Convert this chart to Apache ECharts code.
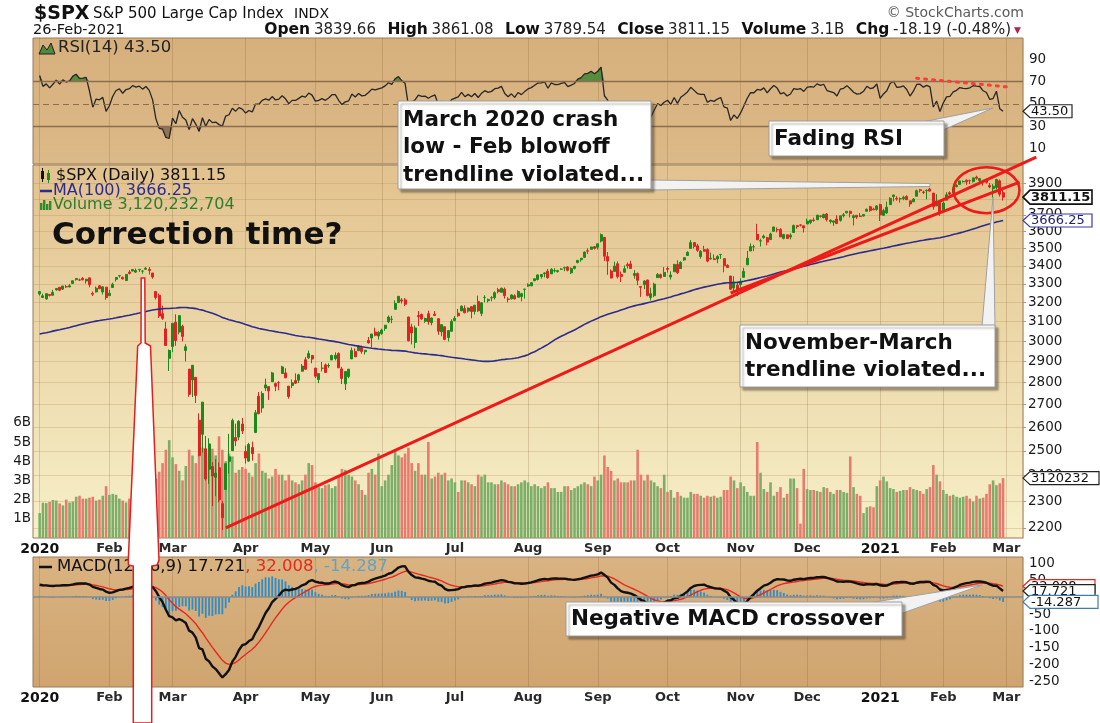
<!DOCTYPE html>
<html>
<head>
<meta charset="utf-8">
<title>$SPX S&amp;P 500 Large Cap Index</title>
<script src="https://cdn.jsdelivr.net/npm/echarts@6.0.0/dist/echarts.min.js"></script>
<style>
html,body{margin:0;padding:0;background:#ffffff;}
#chart{width:1100px;height:723px;}
</style>
</head>
<body>
<div id="chart"></div>
<script>
// ================= DATA =================
const monthKeys = ['2020-01','2020-02','2020-03','2020-04','2020-05','2020-06','2020-07','2020-08','2020-09','2020-10','2020-11','2020-12','2021-01','2021-02'];
const monthDays = [
 [2,3,6,7,8,9,10,13,14,15,16,17,21,22,23,24,27,28,29,30,31],
 [3,4,5,6,7,10,11,12,13,14,18,19,20,21,24,25,26,27,28],
 [2,3,4,5,6,9,10,11,12,13,16,17,18,19,20,23,24,25,26,27,30,31],
 [1,2,3,6,7,8,9,13,14,15,16,17,20,21,22,23,24,27,28,29,30],
 [1,4,5,6,7,8,11,12,13,14,15,18,19,20,21,22,26,27,28,29],
 [1,2,3,4,5,8,9,10,11,12,15,16,17,18,19,22,23,24,25,26,29,30],
 [1,2,6,7,8,9,10,13,14,15,16,17,20,21,22,23,24,27,28,29,30,31],
 [3,4,5,6,7,10,11,12,13,14,17,18,19,20,21,24,25,26,27,28,31],
 [1,2,3,4,8,9,10,11,14,15,16,17,18,21,22,23,24,25,28,29,30],
 [1,2,5,6,7,8,9,12,13,14,15,16,19,20,21,22,23,26,27,28,29,30],
 [2,3,4,5,6,9,10,11,12,13,16,17,18,19,20,23,24,25,27,30],
 [1,2,3,4,7,8,9,10,11,14,15,16,17,18,21,22,23,24,28,29,30,31],
 [4,5,6,7,8,11,12,13,14,15,19,20,21,22,25,26,27,28,29],
 [1,2,3,4,5,8,9,10,11,12,16,17,18,19,22,23,24,25,26]
];
const futureDates = ['2021-03-01','2021-03-02','2021-03-03','2021-03-04','2021-03-05','2021-03-08'];

// closes Aug-Dec 2019 (history needed for MA(100), RSI and MACD warm-up)
const priorCloses = [
 2953.56,2932.05,2844.74,2881.77,2883.98,2938.09,2918.65,2882.70,2926.32,2840.60,2847.60,2888.68,2923.65,2900.51,2924.43,2922.95,2847.11,2878.38,2869.16,2887.94,2924.58,2926.46,
 2906.27,2937.78,2976.00,2978.71,2978.43,2979.39,3000.93,3009.57,3007.39,2997.96,3005.70,3006.73,3006.79,2992.07,2991.78,2966.60,2984.87,2977.62,2961.79,2976.74,
 2940.25,2887.61,2910.63,2952.01,2938.79,2893.06,2919.40,2938.13,2970.27,2966.15,2995.68,2989.69,2997.95,2986.20,3006.72,2995.99,3004.52,3010.29,3022.55,3039.42,3036.89,3046.77,3037.56,
 3066.91,3078.27,3074.62,3076.78,3085.18,3093.08,3087.01,3091.84,3094.04,3096.63,3120.46,3122.03,3120.18,3108.46,3103.54,3110.29,3133.64,3140.52,3153.63,3140.98,
 3113.87,3093.20,3112.76,3117.43,3145.91,3135.96,3132.52,3141.63,3168.57,3168.80,3191.45,3192.52,3191.14,3205.37,3221.22,3224.01,3223.38,3239.91,3240.02,3221.29,3230.78
];

const opens = [
 3245,3226,3218,3242,3238,3267,3281,3271,3285,3283,3302,3323,3321,3330,3316,3333,3248,3256,3289,3256,3282,
 3236,3280,3325,3344,3335,3318,3365,3371,3365,3378,3370,3381,3380,3360,3258,3238,3140,3062,2916,
 2974,3096,3046,3075,2954,2864,2813,2825,2631,2570,2509,2425,2436,2393,2431,2290,2345,2457,2501,2556,2558,2614,
 2498,2458,2514,2578,2738,2685,2776,2782,2805,2796,2800,2843,2846,2784,2787,2810,2812,2854,2909,2918,2930,
 2869,2815,2868,2884,2879,2908,2915,2939,2865,2795,2829,2913,2949,2953,2969,2948,3004,3016,3046,3026,
 3038,3064,3098,3111,3163,3199,3213,3213,3123,3072,2994,3131,3136,3101,3140,3094,3138,3114,3047,3073,3018,3050,
 3105,3143,3155,3167,3154,3177,3152,3205,3142,3226,3209,3224,3225,3268,3254,3271,3218,3219,3235,3227,3231,3270,
 3288,3289,3317,3324,3340,3356,3370,3355,3372,3368,3381,3388,3393,3361,3386,3419,3435,3449,3486,3495,3510,
 3507,3543,3565,3453,3371,3369,3412,3352,3364,3408,3411,3346,3357,3285,3296,3321,3226,3236,3334,3350,3341,
 3385,3338,3367,3408,3385,3434,3459,3500,3534,3515,3453,3493,3493,3439,3440,3439,3464,3441,3403,3343,3277,3293,
 3296,3336,3406,3485,3509,3583,3543,3563,3563,3552,3601,3611,3612,3559,3580,3567,3594,3635,3639,3634,
 3645,3654,3669,3671,3694,3684,3706,3660,3656,3675,3667,3696,3713,3723,3684,3698,3694,3694,3723,3751,3736,3734,
 3764,3698,3713,3764,3815,3803,3801,3802,3815,3788,3782,3817,3858,3844,3852,3863,3837,3756,3778,
 3732,3792,3840,3837,3878,3893,3910,3920,3917,3911,3940,3918,3915,3921,3886,3865,3873,3916,3839.66
];
const highs = [
 3258,3246,3247,3245,3267,3275,3282,3288,3294,3299,3317,3330,3329,3337,3326,3334,3258,3285,3293,3286,3282,
 3268,3306,3337,3348,3341,3352,3376,3381,3385,3381,3375,3394,3393,3360,3259,3247,3182,3098,2959,
 3091,3137,3131,3083,2985,2864,2883,2825,2661,2712,2563,2553,2454,2466,2453,2300,2450,2572,2638,2616,2631,2641,
 2522,2534,2539,2676,2757,2760,2819,2782,2851,2801,2807,2880,2868,2785,2815,2844,2842,2888,2922,2954,2931,
 2870,2845,2898,2891,2892,2933,2945,2945,2875,2852,2865,2969,2964,2980,2978,2956,3021,3036,3068,3050,
 3063,3081,3131,3129,3211,3233,3223,3223,3124,3088,3079,3154,3141,3120,3156,3120,3154,3116,3086,3074,3054,3111,
 3128,3165,3183,3184,3172,3179,3186,3236,3200,3238,3220,3233,3259,3278,3279,3280,3228,3242,3243,3265,3251,3272,
 3303,3307,3331,3352,3353,3364,3382,3387,3387,3378,3387,3395,3399,3391,3400,3432,3444,3482,3501,3510,3514,
 3528,3588,3565,3479,3380,3424,3425,3368,3402,3419,3429,3376,3363,3286,3320,3323,3279,3306,3360,3357,3393,
 3397,3369,3410,3431,3426,3447,3483,3549,3534,3527,3490,3515,3502,3476,3465,3461,3466,3442,3409,3343,3342,3305,
 3330,3389,3486,3529,3521,3646,3557,3581,3569,3593,3628,3624,3620,3586,3581,3589,3642,3638,3644,3634,
 3678,3670,3683,3699,3698,3708,3712,3673,3665,3698,3695,3712,3725,3726,3703,3698,3712,3703,3740,3757,3745,3761,
 3770,3738,3783,3811,3827,3817,3810,3820,3823,3789,3805,3860,3864,3853,3860,3871,3837,3830,3779,
 3784,3843,3848,3872,3894,3916,3919,3925,3925,3937,3950,3933,3922,3931,3902,3895,3928,3925,3861.08
];
const lows = [
 3236,3223,3215,3232,3236,3263,3260,3268,3278,3281,3302,3318,3316,3320,3301,3281,3234,3253,3271,3242,3214,
 3236,3280,3313,3334,3323,3317,3352,3369,3360,3366,3356,3378,3351,3328,3215,3118,3108,2977,2855,
 2946,2977,3034,2999,2901,2735,2734,2707,2478,2493,2380,2367,2281,2319,2295,2192,2345,2407,2500,2520,2545,2571,
 2448,2455,2460,2575,2657,2664,2762,2721,2805,2761,2765,2843,2821,2727,2775,2794,2798,2852,2860,2912,2892,
 2822,2798,2853,2847,2870,2908,2906,2869,2794,2766,2821,2913,2922,2953,2938,2934,2988,2970,3024,3008,
 3032,3052,3091,3091,3163,3197,3194,3181,2999,2984,2965,3077,3108,3093,3083,3080,3128,3032,3025,3005,2999,3048,
 3101,3124,3155,3142,3146,3116,3136,3150,3128,3200,3199,3206,3215,3248,3253,3220,3200,3215,3216,3227,3205,3220,
 3284,3287,3315,3319,3329,3336,3328,3355,3363,3362,3379,3370,3369,3354,3380,3414,3423,3444,3468,3493,3494,
 3494,3535,3427,3350,3330,3367,3329,3310,3364,3385,3384,3328,3292,3229,3271,3232,3210,3228,3333,3328,3340,
 3362,3324,3367,3354,3385,3428,3458,3499,3500,3480,3441,3482,3420,3435,3433,3415,3440,3364,3388,3268,3259,3233,
 3279,3336,3406,3485,3484,3550,3511,3557,3518,3552,3601,3595,3567,3553,3556,3553,3594,3617,3630,3594,
 3645,3644,3658,3670,3684,3679,3660,3648,3634,3645,3659,3685,3710,3685,3636,3676,3689,3690,3723,3720,3730,3726,
 3663,3695,3706,3764,3784,3789,3777,3792,3792,3750,3780,3817,3841,3831,3797,3847,3733,3756,3694,
 3725,3792,3823,3836,3874,3892,3906,3890,3895,3905,3923,3901,3885,3898,3868,3805,3860,3815,3789.54
];
const closes = [
 3257.85,3234.85,3246.28,3237.18,3253.05,3274.70,3265.35,3288.13,3283.15,3289.29,3316.81,3329.62,3320.79,3321.75,3325.54,3295.47,3243.63,3276.24,3273.40,3283.66,3225.52,
 3248.92,3297.59,3334.69,3345.78,3327.71,3352.09,3357.75,3379.45,3373.94,3380.16,3370.29,3386.15,3373.23,3337.75,3225.89,3128.21,3116.39,2978.76,2954.22,
 3090.23,3003.37,3130.12,3023.94,2972.37,2746.56,2882.23,2741.38,2480.64,2711.02,2386.13,2529.19,2398.10,2409.39,2304.92,2237.40,2447.33,2475.56,2630.07,2541.47,2626.65,2584.59,
 2470.50,2526.90,2488.65,2663.68,2659.41,2749.98,2789.82,2761.63,2846.06,2783.36,2799.55,2874.56,2823.16,2736.56,2799.31,2797.80,2836.74,2878.48,2863.39,2939.51,2912.43,
 2830.71,2842.74,2868.44,2848.42,2881.19,2929.80,2930.32,2870.12,2820.00,2852.50,2863.70,2953.91,2922.94,2971.61,2948.51,2955.45,2991.77,3036.13,3029.73,3044.31,
 3055.73,3080.82,3122.87,3112.35,3193.93,3232.39,3207.18,3190.14,3002.10,3041.31,3066.59,3124.74,3113.49,3115.34,3097.74,3117.86,3131.29,3050.33,3083.76,3009.05,3053.24,3100.29,
 3115.86,3130.01,3179.72,3145.32,3169.94,3152.05,3185.04,3155.22,3197.52,3226.56,3215.57,3224.73,3251.84,3257.30,3276.02,3235.66,3215.63,3239.41,3218.44,3258.44,3246.22,3271.12,
 3294.61,3306.51,3327.77,3349.16,3351.28,3360.47,3333.69,3380.35,3373.43,3372.85,3381.99,3389.78,3374.85,3385.51,3397.16,3431.28,3443.62,3478.73,3484.55,3508.01,3500.31,
 3526.65,3580.84,3455.06,3426.96,3331.84,3398.96,3339.19,3340.97,3383.54,3401.20,3385.49,3357.01,3319.47,3281.06,3315.57,3236.92,3246.59,3298.46,3351.60,3335.47,3363.00,
 3380.80,3348.42,3408.60,3360.97,3419.44,3446.83,3477.14,3534.22,3511.93,3488.67,3483.34,3483.81,3426.92,3443.12,3435.56,3453.49,3465.39,3400.97,3390.68,3271.03,3310.11,3269.96,
 3310.24,3369.16,3443.44,3510.45,3509.44,3550.50,3545.53,3572.66,3537.01,3585.15,3626.91,3609.53,3567.79,3581.87,3557.54,3577.59,3635.41,3629.65,3638.35,3621.63,
 3662.45,3669.01,3666.72,3699.12,3691.96,3702.25,3672.82,3668.10,3663.46,3647.49,3694.62,3701.17,3722.48,3709.41,3694.92,3687.26,3690.01,3703.06,3735.36,3727.04,3732.04,3756.07,
 3700.65,3726.86,3748.14,3803.79,3824.68,3799.61,3801.19,3809.84,3795.54,3768.25,3798.91,3851.85,3853.07,3841.47,3855.36,3849.62,3750.77,3787.38,3714.24,
 3773.86,3826.31,3830.17,3871.74,3886.83,3915.59,3911.23,3909.88,3916.38,3934.83,3932.59,3931.33,3913.97,3906.71,3876.50,3881.37,3925.43,3829.34,3811.15
];
// volume in billions of shares
const volumesB = [
 1.30,1.84,1.82,1.88,1.98,1.95,1.80,1.70,2.00,1.85,1.90,2.15,2.20,2.05,2.05,2.10,2.15,1.95,2.00,2.20,2.70,
 2.25,2.30,2.25,2.05,1.95,1.85,2.05,1.95,1.80,1.80,1.95,1.85,2.00,2.30,3.10,3.45,3.90,4.60,5.10,
 4.20,3.85,3.50,3.00,3.75,4.60,4.30,3.90,4.30,4.70,4.45,4.20,4.65,4.30,5.30,4.60,4.00,4.40,4.25,3.40,3.55,3.70,
 3.60,3.40,3.20,3.90,4.40,3.50,3.40,3.10,3.20,3.60,3.30,3.30,3.00,3.30,3.00,2.90,2.80,3.00,3.30,3.90,3.80,
 2.90,2.65,2.60,2.75,2.80,2.60,2.70,3.20,3.60,3.55,3.30,3.20,3.00,2.80,2.50,2.25,3.40,3.60,3.30,4.40,
 2.70,3.00,3.30,3.80,4.60,4.30,4.20,4.40,4.70,3.90,3.50,3.90,3.30,3.30,5.00,3.10,3.20,3.40,3.30,3.40,3.00,3.10,
 2.90,2.40,3.00,3.00,2.90,2.80,2.70,3.30,3.20,3.30,2.90,2.90,2.80,2.80,3.00,2.90,2.80,2.70,2.70,2.80,2.90,3.00,
 2.90,2.70,2.80,2.70,2.60,2.70,2.90,2.60,2.60,2.40,2.40,2.70,2.70,2.50,2.60,2.70,2.80,2.90,2.80,2.70,3.20,
 3.00,3.30,4.30,3.70,3.50,3.00,3.10,2.90,2.90,2.90,3.00,3.00,4.60,3.30,3.00,3.30,3.00,2.90,2.70,2.60,3.30,
 2.40,2.50,2.10,2.40,2.20,2.10,2.10,2.40,2.30,2.30,2.20,2.10,2.20,2.15,2.20,2.10,2.15,2.50,2.50,3.20,3.00,2.60,
 2.90,2.70,2.40,2.20,2.20,5.00,3.40,2.55,2.40,2.90,2.20,2.40,2.65,2.10,2.30,3.10,3.10,2.60,0.75,3.60,
 2.55,2.50,2.50,2.45,2.40,2.65,2.60,2.40,2.30,2.50,2.50,2.40,2.35,4.25,2.65,2.30,2.20,1.30,1.60,1.65,1.60,2.70,
 3.00,3.20,2.95,2.60,2.55,2.40,2.45,2.50,2.50,2.65,2.55,2.50,2.45,2.30,2.55,2.65,3.80,3.30,2.95,
 2.50,2.30,2.20,2.25,2.15,2.10,2.15,2.20,2.05,1.90,2.20,2.05,2.10,2.30,2.80,3.00,2.75,2.85,3.12
];

const priceTicks = [2200,2300,2400,2500,2600,2700,2800,2900,3000,3100,3200,3300,3400,3500,3600,3700,3800,3900];
const rsiTicks = [10,30,50,70,90];
const macdTicks = [100,50,-50,-100,-150,-200,-250];
const volumeTicks = [1,2,3,4,5,6];
const monthNames = ['Jan','Feb','Mar','Apr','May','Jun','Jul','Aug','Sep','Oct','Nov','Dec'];

// last readings shown on the chart
const lastRsi = 43.50;
const lastClose = 3811.15;
const lastMa = 3666.25;
const lastVolume = 3120232704;
const lastMacd = 17.721;
const lastSignal = 32.008;
const lastHist = -14.287;

// annotation anchors: [trading-day index, price] / [index, RSI]
const trendFromFeb = [[55.8, 2200], [299.7, 4074]];
const trendFromNov = [[208.4, 3250], [294.5, 3908]];
const circleCenter = [285.2, 3856];
const rsiFadeLine = [[264, 73], [291.5, 65]];

// ================= BUILD =================
const dates = [];
monthKeys.forEach((mk, k) => monthDays[k].forEach(d => dates.push(mk + '-' + String(d).padStart(2, '0'))));
const N = dates.length;
[opens, highs, lows, closes, volumesB].forEach((a, k) => {
  if (a.length !== N) throw new Error('array ' + k + ' length ' + a.length + ' != ' + N);
});
const PAD = 2;
const cats = ['p1', 'p2'].concat(dates, futureDates);
const monthStart = cats.map((c, i) => {
  if (i < PAD) return false;
  if (i === PAD) return true;
  return c.slice(0, 7) !== cats[i - 1].slice(0, 7);
});
const pad = arr => ['-', '-'].concat(arr);

// indicators
const allC = priorCloses.concat(closes);
const P = priorCloses.length;
const ma100 = closes.map((c, i) => {
  let s = 0; const j = P + i;
  for (let k = j - 99; k <= j; k++) s += allC[k];
  return s / 100;
});
const rsiAll = [];
let ag = 0, al = 0;
for (let k = 1; k <= 14; k++) { const d = allC[k] - allC[k - 1]; if (d > 0) ag += d; else al -= d; }
ag /= 14; al /= 14;
rsiAll[14] = 100 - 100 / (1 + ag / al);
for (let k = 15; k < allC.length; k++) {
  const d = allC[k] - allC[k - 1];
  ag = (ag * 13 + Math.max(d, 0)) / 14;
  al = (al * 13 + Math.max(-d, 0)) / 14;
  rsiAll[k] = 100 - 100 / (1 + ag / al);
}
const rsi = closes.map((c, i) => rsiAll[P + i]);
function ema(arr, n) { const a = 2 / (n + 1); const out = []; let e = arr[0]; arr.forEach((v, i) => { e = i === 0 ? v : e + a * (v - e); out.push(e); }); return out; }
const e12 = ema(allC, 12), e26 = ema(allC, 26);
const macdAll = e12.map((v, i) => v - e26[i]);
const sigAll = ema(macdAll, 9);
const macd = closes.map((c, i) => macdAll[P + i]);
const signal = closes.map((c, i) => sigAll[P + i]);
const hist = macd.map((v, i) => v - signal[i]);

const candleData = pad(dates.map((d, i) => [Math.log(opens[i]), Math.log(closes[i]), Math.log(lows[i]), Math.log(highs[i])]));
candleData[0] = ['-', '-', '-', '-']; candleData[1] = ['-', '-', '-', '-'];
const UP = '#1a8a1a', DOWN = '#e02222';
const volData = pad(volumesB.map((v, i) => ({ value: v, itemStyle: { color: closes[i] >= opens[i] ? '#7cae69' : '#e87b6f' } })));

// ================= OPTION =================
const F = 'DejaVu Sans';
const grad = (a, b) => ({ type: 'linear', x: 0, y: 0, x2: 0, y2: 1, colorStops: [{ offset: 0, color: a }, { offset: 1, color: b }] });
const labelFmt = v => {
  if (v[0] === 'p') return '';
  const y = v.slice(0, 4), m = +v.slice(5, 7);
  return m === 1 ? '{y|' + y + '}' : '{m|' + monthNames[m - 1] + '}';
};
function xAx(gi, showLab) {
  return {
    type: 'category', gridIndex: gi, data: cats, boundaryGap: false,
    axisLine: { show: false }, axisTick: { show: false },
    axisLabel: {
      show: showLab, interval: i => monthStart[i], margin: 4, formatter: labelFmt,
      rich: { y: { fontFamily: F, fontWeight: 'bold', fontSize: 14, color: '#111' }, m: { fontFamily: F, fontWeight: 'bold', fontSize: 13, color: '#2a2a2a' } }
    },
    splitLine: { show: true, interval: i => monthStart[i], lineStyle: { color: 'rgba(120,85,40,0.22)', width: 1 } }
  };
}
const axLab = { fontFamily: F, fontSize: 13.5, color: '#1a1a1a' };
const pinkAxis = { show: true, lineStyle: { color: '#e2a0a0', type: 'dotted', width: 1 } };

const option = {
  animation: false,
  backgroundColor: '#ffffff',
  grid: [
    { left: 33, top: 38, width: 990, height: 126, show: true, backgroundColor: grad('#d6b07c', '#dcb988'), borderColor: '#9a7a58', borderWidth: 1 },
    { left: 33, top: 165, width: 990, height: 373, show: true, backgroundColor: grad('#e2c28e', '#f7f0c9'), borderColor: '#9a7a58', borderWidth: 1 },
    { left: 33, top: 557, width: 990, height: 130, show: true, backgroundColor: grad('#d9b381', '#cfa46f'), borderColor: '#9a7a58', borderWidth: 1 }
  ],
  xAxis: [xAx(0, false), xAx(1, true), xAx(2, true)],
  yAxis: [
    { gridIndex: 0, type: 'value', min: -3.6, max: 108.9, position: 'right', axisLine: pinkAxis, axisTick: { show: false }, splitLine: { show: false },
      axisLabel: Object.assign({ customValues: rsiTicks, margin: 6 }, axLab) },
    { gridIndex: 1, type: 'value', min: Math.log(2163.2), max: Math.log(4020.4), position: 'right', axisLine: pinkAxis,
      axisTick: { show: true, customValues: priceTicks.map(Math.log), length: 3, lineStyle: { color: '#d88080' } },
      splitLine: { show: true, lineStyle: { color: 'rgba(175,135,75,0.28)', width: 1 } },
      axisLabel: Object.assign({ customValues: priceTicks.map(Math.log), margin: 5, formatter: v => String(Math.round(Math.exp(v))) }, axLab) },
    { gridIndex: 1, type: 'value', min: 0, max: 19.43, interval: 1, position: 'left', axisLine: { show: false }, axisTick: { show: false }, splitLine: { show: false },
      axisLabel: Object.assign({ margin: 2, formatter: v => volumeTicks.indexOf(v) >= 0 ? v + 'B' : '' }, axLab) },
    { gridIndex: 2, type: 'value', min: -265, max: 118, position: 'right', axisLine: pinkAxis, axisTick: { show: false }, splitLine: { show: false },
      axisLabel: Object.assign({ customValues: macdTicks, margin: 6 }, axLab) }
  ],
  series: [
    // RSI fills
    { type: 'line', xAxisIndex: 0, yAxisIndex: 0, stack: 'hi', data: pad(rsi.map(() => 70)), symbol: 'none', lineStyle: { opacity: 0 }, silent: true, z: 2 },
    { type: 'line', xAxisIndex: 0, yAxisIndex: 0, stack: 'hi', data: pad(rsi.map(v => Math.max(v - 70, 0))), symbol: 'none', lineStyle: { opacity: 0 }, areaStyle: { color: '#4f8a3a', opacity: 0.95 }, silent: true, z: 2 },
    { type: 'line', xAxisIndex: 0, yAxisIndex: 0, stack: 'lo', data: pad(rsi.map(v => Math.min(v, 30))), symbol: 'none', lineStyle: { opacity: 0 }, silent: true, z: 2 },
    { type: 'line', xAxisIndex: 0, yAxisIndex: 0, stack: 'lo', data: pad(rsi.map(v => 30 - Math.min(v, 30))), symbol: 'none', lineStyle: { opacity: 0 }, areaStyle: { color: '#7a5a48', opacity: 0.75 }, silent: true, z: 2 },
    // RSI line
    { type: 'line', name: 'RSI(14)', xAxisIndex: 0, yAxisIndex: 0, data: pad(rsi), symbol: 'none', lineStyle: { color: '#262626', width: 1.3 }, z: 4,
      markLine: { silent: true, symbol: 'none', label: { show: false },
        data: [
          { yAxis: 70, lineStyle: { color: '#8d6d52', type: 'solid', width: 1.3 } },
          { yAxis: 30, lineStyle: { color: '#8d6d52', type: 'solid', width: 1.3 } },
          { yAxis: 50, lineStyle: { color: '#8d6d52', type: [6, 4], width: 1 } }
        ] } },
    // volume
    { type: 'bar', name: 'Volume', xAxisIndex: 1, yAxisIndex: 2, data: volData, barWidth: 2.6, z: 1 },
    // candles
    { type: 'candlestick', name: '$SPX', xAxisIndex: 1, yAxisIndex: 1, data: candleData, barWidth: 2.5,
      itemStyle: { color: UP, color0: DOWN, borderColor: UP, borderColor0: DOWN, borderWidth: 1 }, z: 3 },
    // MA 100
    { type: 'line', name: 'MA(100)', xAxisIndex: 1, yAxisIndex: 1, data: pad(ma100.map(Math.log)), symbol: 'none', lineStyle: { color: '#2b2b8e', width: 1.6 }, z: 4 },
    // MACD
    { type: 'bar', name: 'Hist', xAxisIndex: 2, yAxisIndex: 3, data: pad(hist), barWidth: 1.8, itemStyle: { color: '#2e8cc8' }, z: 2,
      markLine: { silent: true, symbol: 'none', label: { show: false }, data: [{ yAxis: 0, lineStyle: { color: '#8a8a8a', type: 'solid', width: 1.5 } }] } },
    { type: 'line', name: 'Signal', xAxisIndex: 2, yAxisIndex: 3, data: pad(signal), symbol: 'none', lineStyle: { color: '#e8281e', width: 1.4 }, z: 3 },
    { type: 'line', name: 'MACD', xAxisIndex: 2, yAxisIndex: 3, data: pad(macd), symbol: 'none', lineStyle: { color: '#111111', width: 2.4 }, z: 4 }
  ]
};

const chart = echarts.init(document.getElementById('chart'), null, { renderer: 'canvas', width: 1100, height: 723 });
chart.setOption(option);

// ================= ANNOTATIONS =================
const toPrice = (di, p) => chart.convertToPixel({ xAxisIndex: 1, yAxisIndex: 1 }, [di + PAD, Math.log(p)]);
const toRsi = (di, v) => chart.convertToPixel({ xAxisIndex: 0, yAxisIndex: 0 }, [di + PAD, v]);
const toVol = v => chart.convertToPixel({ xAxisIndex: 1, yAxisIndex: 2 }, [0, v])[1];
const toMacd = v => chart.convertToPixel({ xAxisIndex: 2, yAxisIndex: 3 }, [0, v])[1];

const G = [];
const txt = (x, y, text, o) => G.push(Object.assign({ type: 'text', x, y, z: 120,
  style: Object.assign({ text, fill: '#111', fontFamily: F, fontSize: 13, verticalAlign: 'middle', align: 'left' }, o || {}) }));

// header
txt(34, 14, '$SPX', { fontSize: 19, fontWeight: 'bold' });
txt(93, 14, 'S&P 500 Large Cap Index', { fontSize: 15 });
txt(294, 14, 'INDX', { fontSize: 14 });
txt(33, 30, '26-Feb-2021', { fontSize: 14.5 });
G.push({ type: 'text', x: 1011, y: 30, z: 120, style: {
  text: '{b|Open} {n|3839.66}   {b|High} {n|3861.08}   {b|Low} {n|3789.54}   {b|Close} {n|3811.15}   {b|Volume} {n|3.1B}   {b|Chg} {n|-18.19 (-0.48%)}',
  align: 'right', verticalAlign: 'middle', fontFamily: F,
  rich: { b: { fontFamily: F, fontWeight: 'bold', fontSize: 15.5, fill: '#111' }, n: { fontFamily: F, fontSize: 15, fill: '#222' } } } });
txt(1014, 31, '▼', { fontSize: 9, fill: '#b3204a' });
txt(1024, 13, '© StockCharts.com', { fontSize: 14, fill: '#5a5a5a', align: 'right' });

// legends
G.push({ type: 'polygon', z: 120, shape: { points: [[39, 54], [43, 45], [47, 50], [51, 43], [55, 54]] }, style: { fill: '#4f8a3a', stroke: '#222', lineWidth: 1 } });
txt(58, 48, 'RSI(14) 43.50', { fontSize: 16.5, fill: '#222' });
G.push({ type: 'rect', z: 120, shape: { x: 41, y: 171, width: 3, height: 8 }, style: { fill: '#111' } });
G.push({ type: 'line', z: 120, shape: { x1: 42.5, y1: 168, x2: 42.5, y2: 182 }, style: { stroke: '#111', lineWidth: 1 } });
G.push({ type: 'rect', z: 120, shape: { x: 47, y: 173, width: 3, height: 7 }, style: { fill: '#1a8a1a' } });
G.push({ type: 'line', z: 120, shape: { x1: 48.5, y1: 170, x2: 48.5, y2: 183 }, style: { stroke: '#1a8a1a', lineWidth: 1 } });
txt(56, 176, '$SPX (Daily) 3811.15', { fontSize: 16, fill: '#111' });
G.push({ type: 'line', z: 120, shape: { x1: 40, y1: 191, x2: 52, y2: 191 }, style: { stroke: '#2b2b8e', lineWidth: 2.5 } });
txt(53, 191, 'MA(100) 3666.25', { fontSize: 16, fill: '#2b2b8e' });
[[40, 203], [43, 200], [46, 204], [49, 201]].forEach(p => G.push({ type: 'rect', z: 120, shape: { x: p[0], y: p[1], width: 2.4, height: 210 - p[1] }, style: { fill: '#2e8b2e' } }));
txt(53, 205, 'Volume 3,120,232,704', { fontSize: 16, fill: '#2e7d2e' });
G.push({ type: 'line', z: 120, shape: { x1: 39, y1: 567, x2: 52, y2: 567 }, style: { stroke: '#111', lineWidth: 2.5 } });
G.push({ type: 'text', x: 57, y: 567, z: 120, style: {
  text: '{a|MACD(12,26,9) 17.721}{r|, 32.008}{t|, -14.287}', verticalAlign: 'middle', fontFamily: F,
  rich: { a: { fontFamily: F, fontSize: 16.5, fill: '#111' }, r: { fontFamily: F, fontSize: 16.5, fill: '#e8281e' }, t: { fontFamily: F, fontSize: 16.5, fill: '#5fa3c9' } } } });

txt(52, 236, 'Correction time?', { fontSize: 31, fontWeight: 'bold', fill: '#111' });

// red trend lines + circle
function extLine(a, b) {
  const p1 = toPrice(a[0], a[1]), p2 = toPrice(b[0], b[1]);
  G.push({ type: 'line', z: 110, shape: { x1: p1[0], y1: p1[1], x2: p2[0], y2: p2[1] }, style: { stroke: '#ee1a1a', lineWidth: 3 } });
}
extLine(trendFromFeb[0], trendFromFeb[1]);
extLine(trendFromNov[0], trendFromNov[1]);
const cc = toPrice(circleCenter[0], circleCenter[1]);
G.push({ type: 'ellipse', z: 110, shape: { cx: cc[0], cy: cc[1], rx: 33, ry: 23 }, style: { fill: 'none', stroke: '#ee1a1a', lineWidth: 2.5 } });
const rf1 = toRsi(rsiFadeLine[0][0], rsiFadeLine[0][1]), rf2 = toRsi(rsiFadeLine[1][0], rsiFadeLine[1][1]);
G.push({ type: 'line', z: 110, shape: { x1: rf1[0], y1: rf1[1], x2: rf2[0], y2: rf2[1] }, style: { stroke: '#ff3b3b', lineWidth: 3, lineDash: [2, 6], lineCap: 'round' } });

// callouts
const boxStyle = { fill: '#ffffff', stroke: '#9a9a9a', lineWidth: 1, shadowBlur: 2, shadowOffsetX: 3, shadowOffsetY: 3, shadowColor: 'rgba(60,50,40,0.45)' };
const tailStyle = { fill: '#f2f2f2', stroke: '#a0a0a0', lineWidth: 1 };
const CF = { fontSize: 21.5, fontWeight: 'bold', fill: '#111' };
G.push({ type: 'polygon', z: 112, shape: { points: [[650, 180], [930, 183.5], [930, 186.5], [650, 190]] }, style: tailStyle });
G.push({ type: 'rect', z: 113, shape: { x: 398, y: 101, width: 253, height: 88 }, style: boxStyle });
txt(403, 120, 'March 2020 crash', CF); txt(403, 147.5, 'low - Feb blowoff', CF); txt(403, 175, 'trendline violated...', CF);

G.push({ type: 'polygon', z: 112, shape: { points: [[922, 122], [943, 130], [993, 108]] }, style: tailStyle });
G.push({ type: 'rect', z: 113, shape: { x: 769, y: 121, width: 175, height: 35 }, style: boxStyle });
txt(774, 139, 'Fading RSI', CF);

G.push({ type: 'polygon', z: 112, shape: { points: [[982, 326], [995, 326], [993, 197]] }, style: tailStyle });
G.push({ type: 'rect', z: 113, shape: { x: 740, y: 325, width: 255, height: 62 }, style: boxStyle });
txt(745, 343, 'November-March', CF); txt(745, 370, 'trendline violated...', CF);

G.push({ type: 'polygon', z: 112, shape: { points: [[868, 603], [900, 614], [982, 585]] }, style: tailStyle });
G.push({ type: 'rect', z: 113, shape: { x: 566, y: 602, width: 336, height: 34 }, style: boxStyle });
txt(571, 619, 'Negative MACD crossover', CF);

// right-axis value flags
function flag(y, text, o) {
  const x0 = 1023, w = o.w || 70, h = o.h || 13;
  G.push({ type: 'polygon', z: o.z || 115, shape: { points: [[x0, y], [x0 + 7, y - h / 2], [x0 + w, y - h / 2], [x0 + w, y + h / 2], [x0 + 7, y + h / 2]] },
    style: { fill: '#ffffff', stroke: o.stroke, lineWidth: o.lw || 1.2 } });
  G.push({ type: 'text', x: x0 + 8, y: y + 0.5, z: (o.z || 115) + 1, style: { text, fill: o.color || '#111', fontFamily: F, fontSize: o.fs || 13, fontWeight: o.fw || 'normal', verticalAlign: 'middle' } });
}
flag(toRsi(0, lastRsi)[1], lastRsi.toFixed(2), { stroke: '#222', w: 49 });
flag(toPrice(0, lastClose)[1], lastClose.toFixed(2), { stroke: '#111', lw: 1.6, fw: 'bold', fs: 13, w: 69, h: 14 });
flag(toPrice(0, lastMa)[1], lastMa.toFixed(2), { stroke: '#3a3aa8', color: '#23236e', w: 69, fs: 13 });
flag(toVol(lastVolume / 1e9), String(lastVolume).slice(0, 7), { stroke: '#222', w: 76 });
flag(toMacd(lastSignal), lastSignal.toFixed(3), { stroke: '#e8281e', w: 72, z: 114 });
flag(toMacd(lastMacd), lastMacd.toFixed(3), { stroke: '#222', w: 72, z: 116 });
flag(toMacd(lastHist), lastHist.toFixed(3), { stroke: '#3d7fb0', w: 75, z: 118 });

// white spike artifact
G.push({ type: 'polygon', z: 130, shape: { points: [
  [141.2, 278], [144.8, 278], [145.2, 343], [150.5, 346], [159, 560], [157, 565], [151.7, 566], [151.7, 723],
  [133.3, 723], [133.3, 566], [128.5, 565], [128.3, 560], [137.7, 346], [141, 343]] },
  style: { fill: '#ffffff', stroke: '#e02020', lineWidth: 1.5 } });

chart.setOption({ graphic: { elements: G } });
</script>
</body>
</html>
